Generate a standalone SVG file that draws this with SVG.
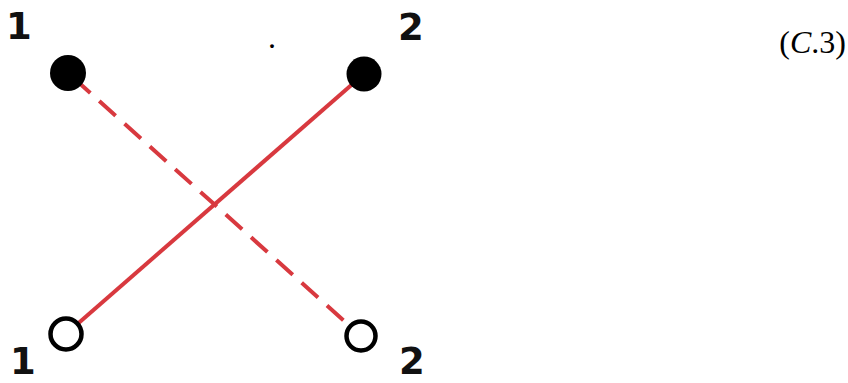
<svg xmlns="http://www.w3.org/2000/svg" width="848" height="383" viewBox="0 0 848 383">
<style>
.lbl{font-family:"DejaVu Sans",sans-serif;font-weight:bold;font-size:37px;fill:#111;}
.eq{font-family:"Liberation Serif",serif;font-size:32px;fill:#000;}
.ln{stroke:#d8393f;stroke-width:4;fill:none;stroke-linecap:butt;}
.filled{fill:#000;}
.open{fill:#fff;stroke:#000;stroke-width:4.5;}
</style>
<rect width="848" height="383" fill="#fff"/>
<g id="connectors">
<line class="ln" x1="66" y1="334" x2="364" y2="74"/>
<line class="ln" x1="68" y1="73" x2="361" y2="336" stroke-dasharray="22,12" stroke-dashoffset="-8"/>
</g>
<g id="top1"><circle class="filled" cx="68" cy="73" r="18"/><text class="lbl" x="6" y="39">1</text></g>
<g id="top2"><circle class="filled" cx="364" cy="74" r="17.5"/><text class="lbl" x="398" y="40">2</text></g>
<g id="bot1"><circle class="open" cx="66" cy="334" r="15.5"/><text class="lbl" x="10" y="374" font-size="36">1</text></g>
<g id="bot2"><circle class="open" cx="361" cy="336" r="14.5"/><text class="lbl" x="399" y="374" font-size="36">2</text></g>
<text class="eq" x="268" y="48" font-size="22">.</text>
<text class="eq" x="846" y="53" text-anchor="end">(<tspan font-style="italic">C</tspan>.3)</text>
</svg>
